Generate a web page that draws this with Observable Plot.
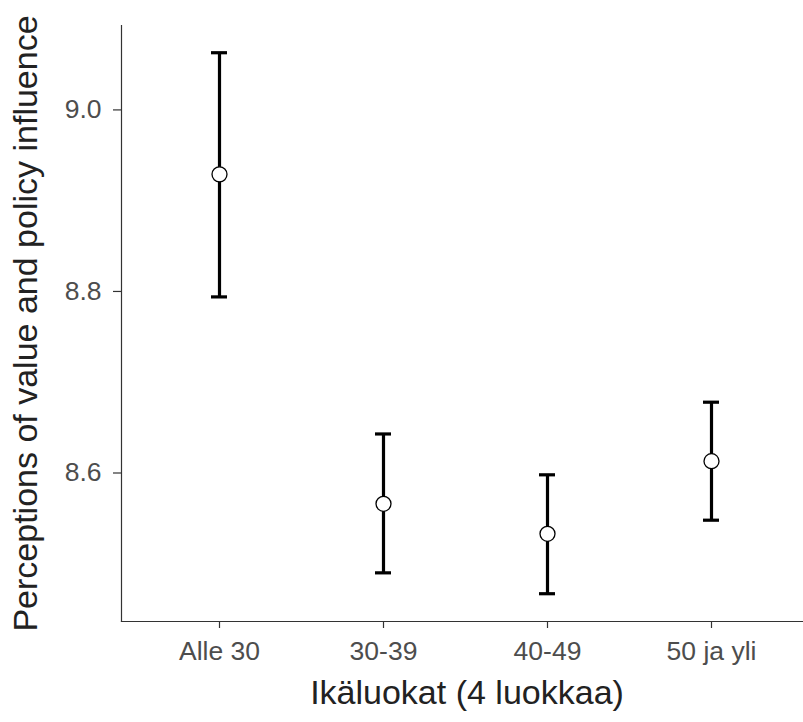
<!DOCTYPE html>
<html>
<head>
<meta charset="utf-8">
<script src="https://cdn.jsdelivr.net/npm/d3@7"></script>
<script src="https://cdn.jsdelivr.net/npm/@observablehq/plot@0.6"></script>
<style>
  html, body { margin: 0; padding: 0; background: white; }
</style>
</head>
<body>
<div id="chart"></div>
<script>
const categories = ["Alle 30", "30-39", "40-49", "50 ja yli"];
const means = [8.929, 8.566, 8.533, 8.613];
const lower = [8.794, 8.490, 8.467, 8.548];
const upper = [9.063, 8.643, 8.598, 8.678];
const yTicks = [8.6, 8.8, 9.0];
const yDomain = [8.4364, 9.093];
const xTitle = "Ikäluokat (4 luokkaa)";
const yTitle = "Perceptions of value and policy influence";

const data = categories.map((c, i) => ({cat: c, mean: means[i], lo: lower[i], hi: upper[i]}));

const font = "'Liberation Sans', Arial, sans-serif";

const chart = Plot.plot({
  width: 803,
  height: 722,
  marginLeft: 121,
  marginRight: 0,
  marginTop: 25,
  marginBottom: 101,
  style: {fontFamily: font, background: "white", color: "#4d4d4d", overflow: "visible"},
  x: {type: "band", domain: categories, range: [121, 810], paddingInner: 0.9024, paddingOuter: 0.5512},
  y: {domain: yDomain},
  marks: [
    Plot.frame({anchor: "left", stroke: "#333333", strokeWidth: 1.2}),
    Plot.frame({anchor: "bottom", stroke: "#333333", strokeWidth: 1.2}),
    Plot.axisY(yTicks, {tickFormat: d => d.toFixed(1), tickSize: 8, tickPadding: 12, fontSize: 26.5, stroke: "#333333", strokeWidth: 1.2, fill: "#4d4d4d", label: null}),
    Plot.axisX({tickSize: 7, tickPadding: 13, fontSize: 26.5, stroke: "#333333", strokeWidth: 1.2, fill: "#4d4d4d", label: null}),
    Plot.ruleX(data, {x: "cat", y1: "lo", y2: "hi", stroke: "black", strokeWidth: 3.2}),
    Plot.tickY(data, {x: "cat", y: "lo", stroke: "black", strokeWidth: 3.2}),
    Plot.tickY(data, {x: "cat", y: "hi", stroke: "black", strokeWidth: 3.2}),
    Plot.dot(data, {x: "cat", y: "mean", r: 7.5, fill: "white", stroke: "black", strokeWidth: 1.3}),
    Plot.text([yTitle], {frameAnchor: "left", textAnchor: "middle", rotate: -90, dx: -95, fontSize: 34, fill: "#222222", fontFamily: font}),
    Plot.text([xTitle], {frameAnchor: "bottom", textAnchor: "middle", dx: 4.5, dy: 82, fontSize: 34, fill: "#222222", fontFamily: font})
  ]
});

document.getElementById("chart").appendChild(chart);
</script>
</body>
</html>
